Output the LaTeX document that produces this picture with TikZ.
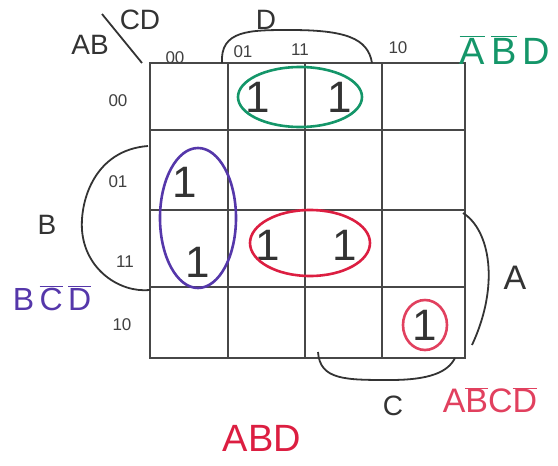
\documentclass[tikz,border=0pt]{standalone}
\usepackage{fontspec}
\setmainfont{Liberation Sans}
\usetikzlibrary{positioning}
\definecolor{loopgreen}{RGB}{20,150,105}
\definecolor{loopblue}{RGB}{85,55,170}
\definecolor{loopred}{RGB}{220,30,65}
\newcommand{\ovl}[1]{$\overline{\mbox{#1}}$}
\newcommand{\fsz}[1]{\fontsize{#1}{#1}\selectfont}
\begin{document}
\begin{tikzpicture}[x=1pt,y=-1pt,
  grid/.style={draw=black!72, line width=2.6pt},
  bracket/.style={draw=black!80, line width=1.8pt},
  one/.style={font=\fsz{44}, text=black!80},
  lbl/.style={font=\fsz{28}, text=black!80},
  hdr/.style={font=\fsz{17}, text=black!75},
  term/.style={font=\fsz{38}},
  loop/.style={line width=2.6pt}]
\useasboundingbox (0,0) rectangle (558,466);
% map
\draw[grid] (150,63) rectangle (465,358);
\foreach \x in {228,305,382} \draw[grid] (\x,63) -- (\x,358);
\foreach \y in {130,210,287} \draw[grid] (150,\y) -- (465,\y);
\coordinate (corner) at (142,63);
\coordinate (slash) at (102,14);
\draw[bracket] (slash) -- (corner);
\node[lbl](cd) at (140,20){CD};
\node[lbl](ab) at (90,45){AB};
% headers
\node[hdr](c00) at (175,58){00};
\node[hdr](c01) at (243,52){01};
\node[hdr](c11) at (300,50){11};
\node[hdr](c10) at (398,48){10};
\node[hdr](r00) at (118,101){00};
\node[hdr](r01) at (118,182){01};
\node[hdr](r11) at (125,262){11};
\node[hdr](r10) at (122,325){10};
% variable brackets
\draw[bracket] (222,63) .. controls (220,30) and (250,30) .. (290,30) .. controls (345,30) and (368,38) .. (372,63);
\node[lbl](d) at (266,20){D};
\draw[bracket] (148,146) .. controls (95,150) and (80,200) .. (82,230) .. controls (85,270) and (120,293) .. (150,290);
\node[lbl](b) at (47,225){B};
\draw[bracket] (463,213) .. controls (490,230) and (500,285) .. (472,345);
\node[lbl, font=\fsz{34}](a) at (515,278){A};
\draw[bracket] (318,352) .. controls (320,380) and (345,380) .. (390,380) .. controls (430,380) and (448,372) .. (455,358);
\node[lbl](c) at (393,406){C};
% ones
\node[one](m1) at (258,97){1};
\node[one](m3) at (340,97){1};
\node[one](m4) at (185,182){1};
\node[one](m12) at (198,262){1};
\node[one](m13) at (268,245){1};
\node[one](m15) at (345,245){1};
\node[one](m10) at (425,325){1};
% loops
\draw[loop, loopgreen] (300,97) ellipse (62 and 30);
\draw[loop, loopblue] (198,218) ellipse (38 and 70);
\draw[loop, loopred] (310,243) ellipse (60 and 33);
\draw[loop, loopred!85] (425,325) ellipse (22 and 25);
% terms
\node[term, text=loopgreen](tg) at (505,50){\ovl{A}\,\ovl{B}\,D};
\node[term, text=loopblue, font=\fsz{32}](tb) at (52,298){B\,\ovl{C}\,\ovl{D}};
\node[term, text=loopred](tr) at (262,438){ABD};
\node[term, text=loopred!85, font=\fsz{34}](tr2) at (490,400){A\ovl{B}C\ovl{D}};
\end{tikzpicture}
\end{document}
